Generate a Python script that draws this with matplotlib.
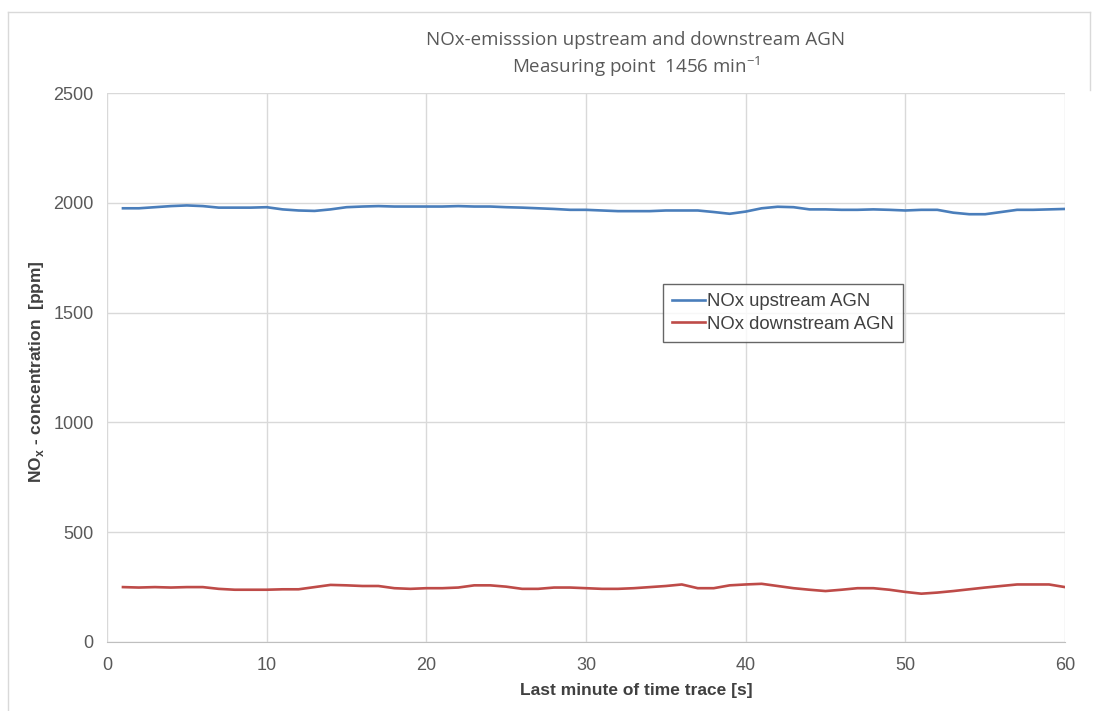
"""NOx-Emission vor und nach AGN, letzte Minute der Messung bei 1456 min-1."""
import matplotlib
matplotlib.use("Agg")
import matplotlib.pyplot as plt
from matplotlib.lines import Line2D

# Zeit [s] und Messwerte [ppm]
seconds = list(range(1, 61))
nox_upstream = [
    1975, 1975, 1980, 1985, 1988, 1985, 1978, 1978, 1978, 1980,
    1970, 1965, 1963, 1970, 1980, 1983, 1985, 1983, 1983, 1983,
    1983, 1985, 1983, 1983, 1980, 1978, 1975, 1972, 1968, 1968,
    1965, 1962, 1962, 1962, 1965, 1965, 1965, 1958, 1950, 1960,
    1975, 1982, 1980, 1970, 1970, 1968, 1968, 1970, 1968, 1965,
    1968, 1968, 1955, 1948, 1948, 1958, 1968, 1968, 1970, 1972,
]
nox_downstream = [
    250, 248, 250, 248, 250, 250, 242, 238, 238, 238,
    240, 240, 250, 260, 258, 255, 255, 245, 242, 245,
    245, 248, 258, 258, 252, 242, 242, 248, 248, 245,
    242, 242, 245, 250, 255, 262, 245, 245, 258, 262,
    265, 255, 245, 238, 232, 238, 245, 245, 238, 228,
    220, 225, 232, 240, 248, 255, 262, 262, 262, 250,
]
x_ticks = [0, 10, 20, 30, 40, 50, 60]
y_ticks = [0, 500, 1000, 1500, 2000, 2500]

plt.rcParams["font.family"] = ["Liberation Sans", "DejaVu Sans"]
plt.rcParams["mathtext.fontset"] = "custom"
plt.rcParams["mathtext.rm"] = "Liberation Sans"
plt.rcParams["mathtext.bf"] = "Liberation Sans:bold"

W, H = 1102, 711
GREY_TXT = "#595959"

fig = plt.figure(figsize=(W / 100, H / 100), dpi=100)
ax = fig.add_axes([107 / W, 1 - 642 / H, (1065 - 107) / W, (642 - 93) / H])

ax.plot(seconds, nox_upstream, color="#4a7ebb", lw=1.9, label="NOx upstream AGN")
ax.plot(seconds, nox_downstream, color="#be4b48", lw=1.9, label="NOx downstream AGN")

ax.set_xlim(0, 60)
ax.set_ylim(0, 2500)
ax.set_xticks(x_ticks)
ax.set_yticks(y_ticks)
ax.grid(True, color="#d9d9d9", lw=1.0)
ax.set_axisbelow(True)
for side in ("top", "right", "left"):
    ax.spines[side].set_visible(False)
ax.spines["bottom"].set_color("#bfbfbf")
ax.tick_params(length=0, labelcolor=GREY_TXT, labelsize=13)
ax.tick_params(axis="x", pad=11)
ax.tick_params(axis="y", pad=9.5)

# Titel und Achsenbeschriftungen
fig.text(636 / W, 1 - 40 / H, "NOx-emisssion upstream and downstream AGN",
         ha="center", va="center", fontsize=13.5, color=GREY_TXT, family="Open Sans")
fig.text(636 / W, 1 - 67 / H, "Measuring point  1456 min$^{\\mathregular{-1}}$",
         ha="center", va="center", fontsize=13.5, color=GREY_TXT, family="Open Sans")
fig.text(636 / W, 1 - 690 / H, "Last minute of time trace [s]",
         ha="center", va="center", fontsize=12.5, color="#404040", fontweight="bold")
fig.text(37 / W, 1 - 372 / H, "NO$_{\\mathbf{x}}$ - concentration  [ppm]",
         ha="center", va="center", rotation=90, fontsize=12.5, color="#404040",
         fontweight="bold")

leg = ax.legend(loc="upper left", bbox_to_anchor=(663 / W, 1 - 284 / H),
                bbox_transform=fig.transFigure, borderaxespad=0, fancybox=False,
                handlelength=1.75, handletextpad=0.15, borderpad=0.5,
                labelspacing=0.3, prop={"size": 13.3})
leg.get_frame().set_edgecolor("#404040")
leg.get_frame().set_linewidth(1.0)
for t in leg.get_texts():
    t.set_color("#404040")

# Rahmen des Diagrammbereichs
frame_kw = dict(color="#d9d9d9", lw=1.0, transform=fig.transFigure)
fig.add_artist(Line2D([8 / W, 8 / W], [0, 1 - 12 / H], **frame_kw))
fig.add_artist(Line2D([8 / W, 1090 / W], [1 - 12 / H, 1 - 12 / H], **frame_kw))
fig.add_artist(Line2D([1090 / W, 1090 / W], [1 - 12 / H, 1 - 90 / H], **frame_kw))

fig.savefig("out.png", dpi=100)
